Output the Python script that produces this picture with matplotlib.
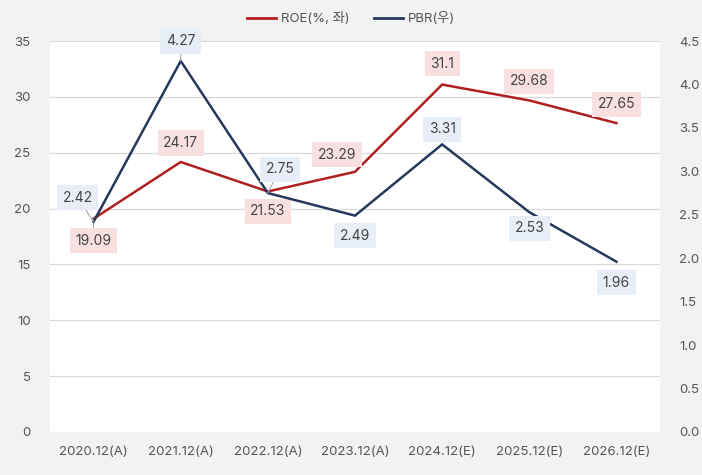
import matplotlib
matplotlib.use("Agg")
import matplotlib.pyplot as plt
from matplotlib.lines import Line2D

plt.rcParams['font.family'] = ['Inter', 'Noto Sans CJK KR', 'DejaVu Sans']

categories = ["2020.12(A)", "2021.12(A)", "2022.12(A)", "2023.12(A)",
              "2024.12(E)", "2025.12(E)", "2026.12(E)"]
roe = [19.09, 24.17, 21.53, 23.29, 31.1, 29.68, 27.65]
pbr = [2.42, 4.27, 2.75, 2.49, 3.31, 2.53, 1.96]
roe_labels = ["19.09", "24.17", "21.53", "23.29", "31.1", "29.68", "27.65"]
pbr_labels = ["2.42", "4.27", "2.75", "2.49", "3.31", "2.53", "1.96"]
left_ticks = [0, 5, 10, 15, 20, 25, 30, 35]
right_ticks = [0.0, 0.5, 1.0, 1.5, 2.0, 2.5, 3.0, 3.5, 4.0, 4.5]

# label offsets in pixels (dx, dy) -- styling only
roe_off = [(0, -22), (0, 19), (0, -20), (-18, 17), (0, 21), (0, 19), (0, 19)]
pbr_off = [(-16, 24), (0, 20), (12, 24), (0, -20), (0, 15), (0, -16), (0, -21)]
pbr_leader = [True, True, True, False, False, False, False]
roe_leader = [True, False, False, False, False, False, False]

RED = "#b01f1f"
NAVY = "#26395c"
BG = "#f2f2f2"

fig = plt.figure(figsize=(7.02, 4.75), dpi=100, facecolor=BG)
ax = fig.add_axes([50/702, 1-432/475, 610/702, 391/475])
ax.set_facecolor("white")
ax2 = ax.twinx()

x = list(range(len(categories)))
ax.plot(x, roe, color=RED, lw=1.8, zorder=3, solid_joinstyle='miter')
ax2.plot(x, pbr, color=NAVY, lw=1.8, zorder=3, solid_joinstyle='miter')

ax.set_xlim(-0.5, len(categories) - 0.5)
ax.set_ylim(0, 35)
ax2.set_ylim(0, 4.5)
ax.set_yticks(left_ticks)
ax.set_yticklabels([str(t) for t in left_ticks])
ax2.set_yticks(right_ticks)
ax2.set_yticklabels([f"{t:.1f}" for t in right_ticks])
ax.set_xticks(x)
ax.set_xticklabels(categories)

for a in (ax, ax2):
    for s in a.spines.values():
        s.set_visible(False)
    a.tick_params(length=0, labelsize=9.5, colors="#555555")
ax.tick_params(axis='x', pad=10)
ax.tick_params(axis='y', pad=14)
ax2.tick_params(axis='y', pad=14)
ax.yaxis.grid(True, color="#d9d9d9", lw=0.9)
ax.set_axisbelow(True)

px = 72 / 100.0

def label(axis, xi, yi, txt, off, fc, leader):
    axis.annotate(txt, xy=(xi, yi), xytext=(off[0]*px, off[1]*px),
                  textcoords='offset points', ha='center', va='center',
                  fontsize=10, color="#444444", zorder=5,
                  bbox=dict(boxstyle='square,pad=0.4', fc=fc, ec='none'),
                  arrowprops=dict(arrowstyle='-', color='#aaaaaa', lw=0.8,
                                  shrinkA=0, shrinkB=0) if leader else None)

for i in x:
    label(ax, i, roe[i], roe_labels[i], roe_off[i], "#f8e0e0", roe_leader[i])
    label(ax2, i, pbr[i], pbr_labels[i], pbr_off[i], "#e8eef8", pbr_leader[i])

handles = [Line2D([], [], color=RED, lw=2), Line2D([], [], color=NAVY, lw=2)]
fig.legend(handles, ["ROE(%, 좌)", "PBR(우)"], loc='center', ncol=2,
           bbox_to_anchor=(0.5, 1-19/475), frameon=False, fontsize=9.5,
           handlelength=2.2, columnspacing=1.8, handletextpad=0.4,
           labelcolor="#555555")

fig.savefig("out.png", dpi=100, facecolor=BG)
